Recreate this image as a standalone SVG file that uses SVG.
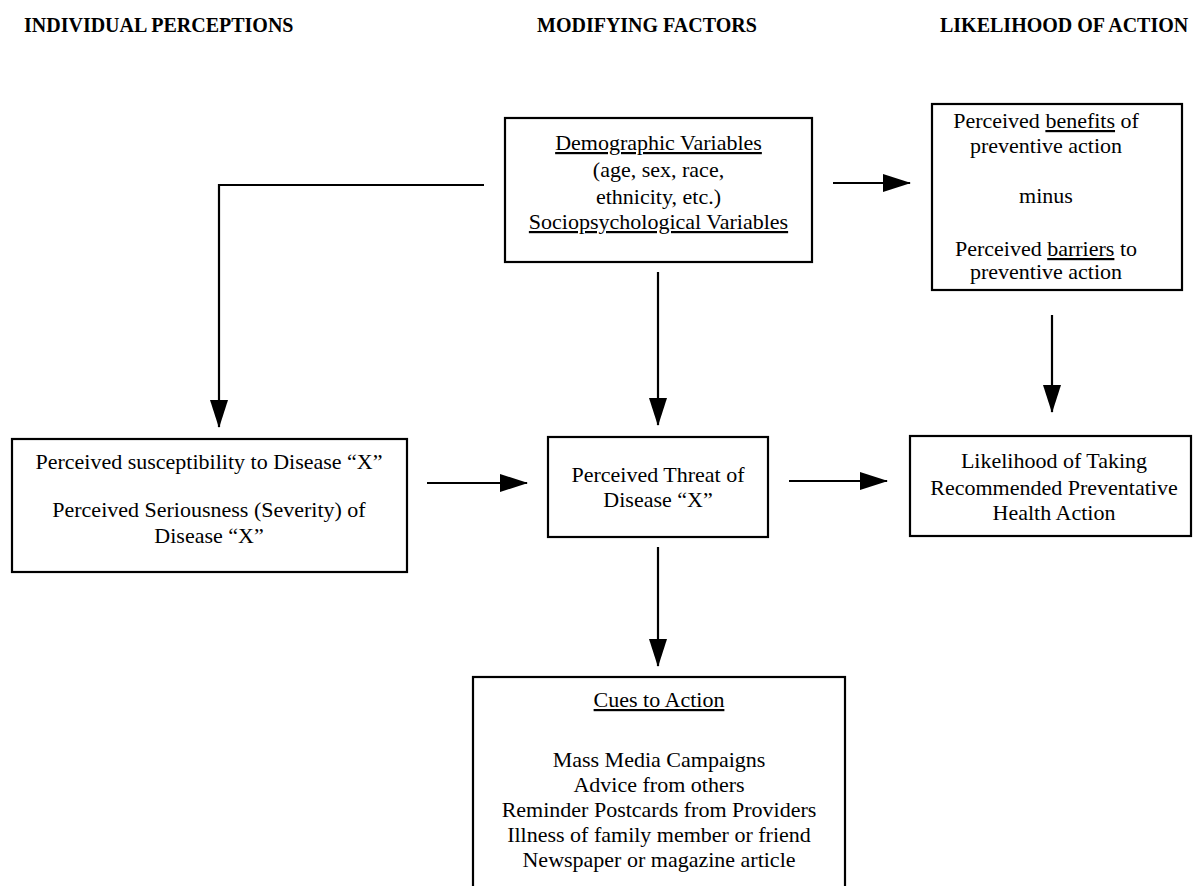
<svg xmlns="http://www.w3.org/2000/svg" width="1193" height="886" viewBox="0 0 1193 886">
<defs>
<style>
.bg{fill:#fff}
.box{fill:#fff;stroke:#000;stroke-width:2.2}
.t{font-family:"Liberation Serif","Times New Roman",serif;font-size:22px;fill:#000;text-anchor:middle}
.h{font-family:"Liberation Serif","Times New Roman",serif;font-size:20px;font-weight:bold;fill:#000}
.u{text-decoration:underline}
.c{fill:none;stroke:#000;stroke-width:2.2}
</style>
<marker id="ah" markerUnits="userSpaceOnUse" markerWidth="28" markerHeight="18" refX="27" refY="9" orient="auto">
<path d="M0,0 L28,9 L0,18 Z" fill="#000"/>
</marker>
</defs>
<rect class="bg" x="0" y="0" width="1193" height="886"/>

<g id="headers">
<text class="h" x="24" y="32">INDIVIDUAL PERCEPTIONS</text>
<text class="h" x="537" y="32">MODIFYING FACTORS</text>
<text class="h" x="940" y="32">LIKELIHOOD OF ACTION</text>
</g>

<g id="connectors">
<path class="c" d="M484,185 H219 V427" marker-end="url(#ah)"/>
<path class="c" d="M658,272 V425" marker-end="url(#ah)"/>
<path class="c" d="M833,183 H910" marker-end="url(#ah)"/>
<path class="c" d="M1052,315 V412" marker-end="url(#ah)"/>
<path class="c" d="M427,483 H527" marker-end="url(#ah)"/>
<path class="c" d="M789,481 H887" marker-end="url(#ah)"/>
<path class="c" d="M658,547 V666" marker-end="url(#ah)"/>
</g>

<g id="demographic">
<rect class="box" x="505" y="118" width="307" height="144"/>
<text class="t" x="658.5" y="150"><tspan class="u">Demographic Variables</tspan></text>
<text class="t" x="658.5" y="177">(age, sex, race,</text>
<text class="t" x="658.5" y="204">ethnicity, etc.)</text>
<text class="t" x="658.5" y="229"><tspan class="u">Sociopsychological Variables</tspan></text>
</g>

<g id="benefits">
<rect class="box" x="932" y="104" width="250" height="186"/>
<text class="t" x="1046" y="128">Perceived <tspan class="u">benefits</tspan> of</text>
<text class="t" x="1046" y="153">preventive action</text>
<text class="t" x="1046" y="203">minus</text>
<text class="t" x="1046" y="256">Perceived <tspan class="u">barriers</tspan> to</text>
<text class="t" x="1046" y="279">preventive action</text>
</g>

<g id="perceptions">
<rect class="box" x="12" y="439" width="395" height="133"/>
<text class="t" x="209" y="469">Perceived susceptibility to Disease “X”</text>
<text class="t" x="209" y="517">Perceived Seriousness (Severity) of</text>
<text class="t" x="209" y="543">Disease “X”</text>
</g>

<g id="threat">
<rect class="box" x="548" y="437" width="220" height="100"/>
<text class="t" x="658" y="482">Perceived Threat of</text>
<text class="t" x="658" y="507">Disease “X”</text>
</g>

<g id="likelihood">
<rect class="box" x="910" y="436" width="281" height="100"/>
<text class="t" x="1054" y="468">Likelihood of Taking</text>
<text class="t" x="1054" y="495">Recommended Preventative</text>
<text class="t" x="1054" y="520">Health Action</text>
</g>

<g id="cues">
<rect class="box" x="473" y="677" width="372" height="220"/>
<text class="t" x="659" y="707"><tspan class="u">Cues to Action</tspan></text>
<text class="t" x="659" y="767">Mass Media Campaigns</text>
<text class="t" x="659" y="792">Advice from others</text>
<text class="t" x="659" y="817">Reminder Postcards from Providers</text>
<text class="t" x="659" y="842">Illness of family member or friend</text>
<text class="t" x="659" y="867">Newspaper or magazine article</text>
</g>
</svg>
